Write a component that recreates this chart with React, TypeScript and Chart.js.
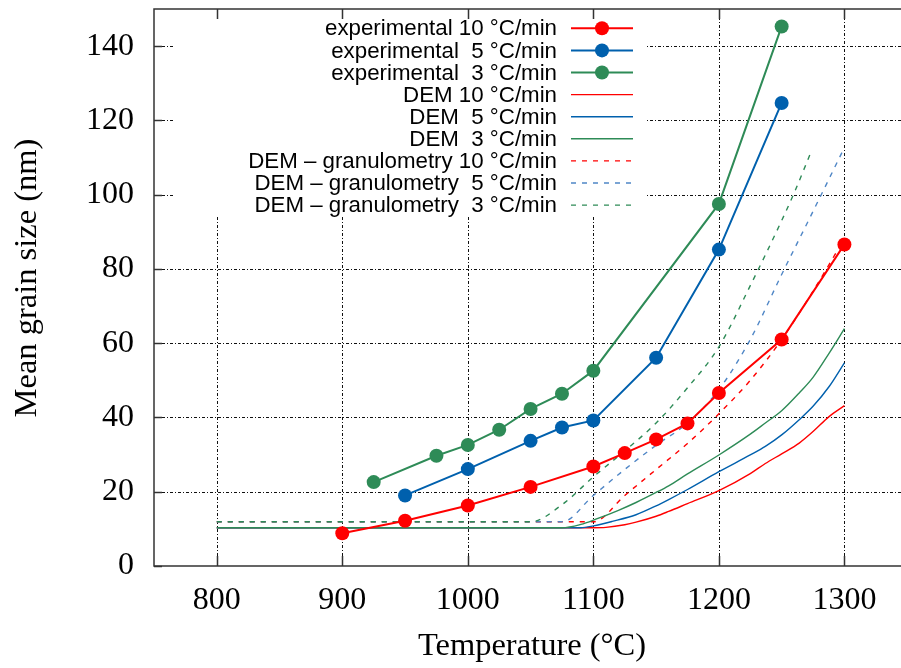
import React, { useEffect, useRef } from "react";
import { Chart, registerables } from "chart.js";

Chart.register(...registerables);

// ---- tick labels ----
const xTicks = [800, 900, 1000, 1100, 1200, 1300];
const yTicks = [0, 20, 40, 60, 80, 100, 120, 140];
const xTitle = "Temperature (°C)";
const yTitle = "Mean grain size (nm)";

// ---- experimental series ----
const exp10T = [900, 950, 1000, 1050, 1100, 1125, 1150, 1175, 1200, 1250, 1300];
const exp10G = [8.8, 12.2, 16.3, 21.3, 26.8, 30.4, 34.1, 38.4, 46.6, 61.0, 86.6];
const exp5T = [950, 1000, 1050, 1075, 1100, 1150, 1200, 1250];
const exp5G = [19.0, 26.1, 33.7, 37.3, 39.2, 56.1, 85.2, 124.7];
const exp3T = [925, 975, 1000, 1025, 1050, 1075, 1100, 1200, 1250];
const exp3G = [22.6, 29.7, 32.6, 36.7, 42.3, 46.4, 52.6, 97.5, 145.3];

// ---- DEM series ----
const dem10T = [800, 1000, 1100, 1110, 1125, 1134, 1150, 1160, 1175, 1200, 1225, 1237, 1250, 1264, 1275, 1288, 1300];
const dem10G = [10.3, 10.3, 10.3, 10.4, 11.1, 11.8, 13.4, 14.7, 16.8, 20.3, 24.9, 27.6, 30.2, 33.1, 36.2, 40.3, 43.2];
const dem5T = [800, 1000, 1090, 1100, 1115, 1134, 1150, 1160, 1175, 1200, 1225, 1237, 1250, 1264, 1275, 1288, 1300];
const dem5G = [10.3, 10.3, 10.3, 10.8, 12.0, 13.8, 16.2, 17.9, 20.6, 25.4, 29.9, 32.2, 35.3, 39.4, 43.0, 48.4, 54.7];
const dem3T = [800, 1000, 1075, 1090, 1102, 1120, 1134, 1150, 1160, 1175, 1200, 1225, 1237, 1250, 1264, 1275, 1288, 1300];
const dem3G = [10.3, 10.3, 10.3, 11.2, 12.6, 15.0, 17.1, 19.8, 21.6, 24.8, 29.9, 35.5, 38.5, 41.8, 46.6, 50.8, 57.4, 63.9];

// ---- DEM granulometry series ----
const gran10T = [800, 1000, 1100, 1125, 1150, 1175, 1200, 1225, 1250, 1275, 1298];
const gran10G = [11.9, 11.9, 11.9, 19.0, 26.0, 33.0, 41.0, 50.0, 61.0, 74.0, 87.0];
const gran5T = [800, 1000, 1075, 1100, 1125, 1150, 1175, 1200, 1225, 1250, 1275, 1299];
const gran5G = [11.9, 11.9, 11.9, 19.0, 26.0, 32.5, 38.5, 47.5, 61.0, 78.5, 95.5, 112.0];
const gran3T = [800, 1000, 1050, 1075, 1100, 1125, 1150, 1175, 1200, 1225, 1250, 1260, 1274];
const gran3G = [11.9, 11.9, 11.9, 16.5, 24.0, 31.0, 38.5, 48.0, 59.0, 75.5, 93.0, 100.5, 112.0];

const RED = "#ff0000";
const BLUE = "#0060ad";
const GREEN = "#2e8b57";

const SERIF = '"Liberation Serif", "Times New Roman", serif';
const SANS = '"Liberation Sans", Arial, Helvetica, sans-serif';

const pts = (t: number[], g: number[]) => t.map((v, i) => ({ x: v, y: g[i] }));

const frame = {
  id: "frame",
  beforeDatasetsDraw(chart: any) {
    const { ctx, chartArea: ca, scales } = chart;
    const xs = scales.x;
    const ys = scales.y;
    ctx.save();
    ctx.strokeStyle = "#111";
    ctx.lineWidth = 1;
    ctx.setLineDash([3, 2, 1, 2]);
    for (const v of xTicks) {
      const px = Math.round(xs.getPixelForValue(v)) + 0.5;
      ctx.beginPath();
      ctx.moveTo(px, ca.top);
      ctx.lineTo(px, ca.bottom);
      ctx.stroke();
    }
    for (const v of yTicks) {
      if (v === 0) continue;
      const py = Math.round(ys.getPixelForValue(v)) + 0.5;
      ctx.beginPath();
      ctx.moveTo(ca.left, py);
      ctx.lineTo(chart.width, py);
      ctx.stroke();
    }
    ctx.restore();
  },
  afterDatasetsDraw(chart: any) {
    const { ctx, chartArea: ca, scales } = chart;
    const xs = scales.x;
    const ys = scales.y;
    ctx.save();
    // legend (opaque key box)
    ctx.fillStyle = "#ffffff";
    ctx.fillRect(173, 17, 472, 199);
    const ds = chart.data.datasets;
    ctx.font = "22.3px " + SANS;
    ctx.textAlign = "right";
    ctx.textBaseline = "middle";
    ds.forEach((d: any, i: number) => {
      const y = 28.3 + i * 22.1;
      ctx.fillStyle = "#000";
      ctx.fillText(d.label, 557, y + 1);
      ctx.strokeStyle = d.borderColor;
      ctx.lineWidth = d.borderWidth;
      ctx.setLineDash(d.borderDash || []);
      ctx.beginPath();
      ctx.moveTo(571, y);
      ctx.lineTo(633, y);
      ctx.stroke();
      ctx.setLineDash([]);
      if (d.pointRadius > 0) {
        ctx.fillStyle = d.pointBackgroundColor;
        ctx.beginPath();
        ctx.arc(602, y, d.pointRadius, 0, Math.PI * 2);
        ctx.fill();
      }
    });
    // inward tick marks + border (left, top, bottom)
    ctx.setLineDash([]);
    ctx.strokeStyle = "#333";
    ctx.lineWidth = 1.5;
    for (const v of xTicks) {
      const px = Math.round(xs.getPixelForValue(v)) + 0.5;
      ctx.beginPath();
      ctx.moveTo(px, ca.bottom);
      ctx.lineTo(px, ca.bottom - 10);
      ctx.moveTo(px, ca.top);
      ctx.lineTo(px, ca.top + 10);
      ctx.stroke();
    }
    for (const v of yTicks) {
      const py = Math.round(ys.getPixelForValue(v)) + 0.5;
      ctx.beginPath();
      ctx.moveTo(ca.left, py);
      ctx.lineTo(ca.left + 8, py);
      ctx.stroke();
    }
    ctx.beginPath();
    ctx.moveTo(chart.width, ca.top);
    ctx.lineTo(ca.left, ca.top);
    ctx.lineTo(ca.left, ca.bottom);
    ctx.lineTo(chart.width, ca.bottom);
    ctx.stroke();
    // axis titles
    ctx.fillStyle = "#000";
    ctx.font = "32.5px " + SERIF;
    ctx.textAlign = "center";
    ctx.textBaseline = "middle";
    ctx.fillText(xTitle, 532, 646);
    ctx.translate(27, 278);
    ctx.rotate(-Math.PI / 2);
    ctx.fillText(yTitle, 0, 0);
    ctx.restore();
  },
};

export default function App() {
  const ref = useRef<HTMLCanvasElement | null>(null);
  useEffect(() => {
    if (!ref.current) return;
    const expStyle = (c: string) => ({
      borderColor: c,
      backgroundColor: c,
      pointBackgroundColor: c,
      pointBorderColor: c,
      borderWidth: 2,
      pointRadius: 7,
      pointBorderWidth: 0,
      showLine: true,
      tension: 0,
      order: 0,
    });
    const demStyle = (c: string, dash: number[] | undefined, order: number) => ({
      borderColor: c,
      backgroundColor: c,
      borderWidth: 1.4,
      borderDash: dash,
      pointRadius: 0,
      showLine: true,
      cubicInterpolationMode: "monotone" as const,
      order,
    });
    const chart = new Chart(ref.current, {
      type: "scatter",
      data: {
        datasets: [
          { label: "experimental 10 °C/min", data: pts(exp10T, exp10G), ...expStyle(RED) },
          { label: "experimental  5 °C/min", data: pts(exp5T, exp5G), ...expStyle(BLUE) },
          { label: "experimental  3 °C/min", data: pts(exp3T, exp3G), ...expStyle(GREEN) },
          { label: "DEM 10 °C/min", data: pts(dem10T, dem10G), ...demStyle(RED, undefined, 3) },
          { label: "DEM  5 °C/min", data: pts(dem5T, dem5G), ...demStyle(BLUE, undefined, 2) },
          { label: "DEM  3 °C/min", data: pts(dem3T, dem3G), ...demStyle(GREEN, undefined, 1) },
          { label: "DEM – granulometry 10 °C/min", data: pts(gran10T, gran10G), ...demStyle(RED, [5, 6], 3) },
          { label: "DEM – granulometry  5 °C/min", data: pts(gran5T, gran5G), ...demStyle("#4f86c6", [5, 6], 2) },
          { label: "DEM – granulometry  3 °C/min", data: pts(gran3T, gran3G), ...demStyle(GREEN, [5, 6], 1) },
        ] as any,
      },
      options: {
        responsive: false,
        animation: false,
        layout: { padding: { top: 9, left: 0, right: 0, bottom: 0 } },
        plugins: { legend: { display: false }, tooltip: { enabled: false } },
        scales: {
          x: {
            type: "linear",
            min: 750,
            max: 1339.5,
            afterBuildTicks: (s: any) => {
              s.ticks = xTicks.map((v) => ({ value: v }));
            },
            afterFit: (s: any) => {
              s.height = 102;
              s.paddingLeft = 0;
              s.paddingRight = 0;
            },
            grid: { display: false, drawTicks: false },
            border: { display: false },
            ticks: {
              font: { family: SERIF, size: 32 },
              color: "#000",
              padding: 15,
              maxRotation: 0,
              autoSkip: false,
              callback: (v: any) => String(v),
            },
            title: { display: false },
          },
          y: {
            type: "linear",
            min: 0,
            max: 150,
            afterBuildTicks: (s: any) => {
              s.ticks = yTicks.map((v) => ({ value: v }));
            },
            afterFit: (s: any) => {
              s.width = 154;
              s.paddingTop = 0;
              s.paddingBottom = 0;
            },
            grid: { display: false, drawTicks: false },
            border: { display: false },
            ticks: {
              font: { family: SERIF, size: 32 },
              color: "#000",
              padding: 20,
              autoSkip: false,
              callback: (v: any) => String(v),
            },
            title: { display: false },
          },
        },
      },
      plugins: [frame],
    });
    return () => chart.destroy();
  }, []);
  return (
    <div style={{ position: "absolute", left: 0, top: 0, width: 901, height: 668, background: "#fff" }}>
      <canvas ref={ref} width={901} height={668} />
    </div>
  );
}
